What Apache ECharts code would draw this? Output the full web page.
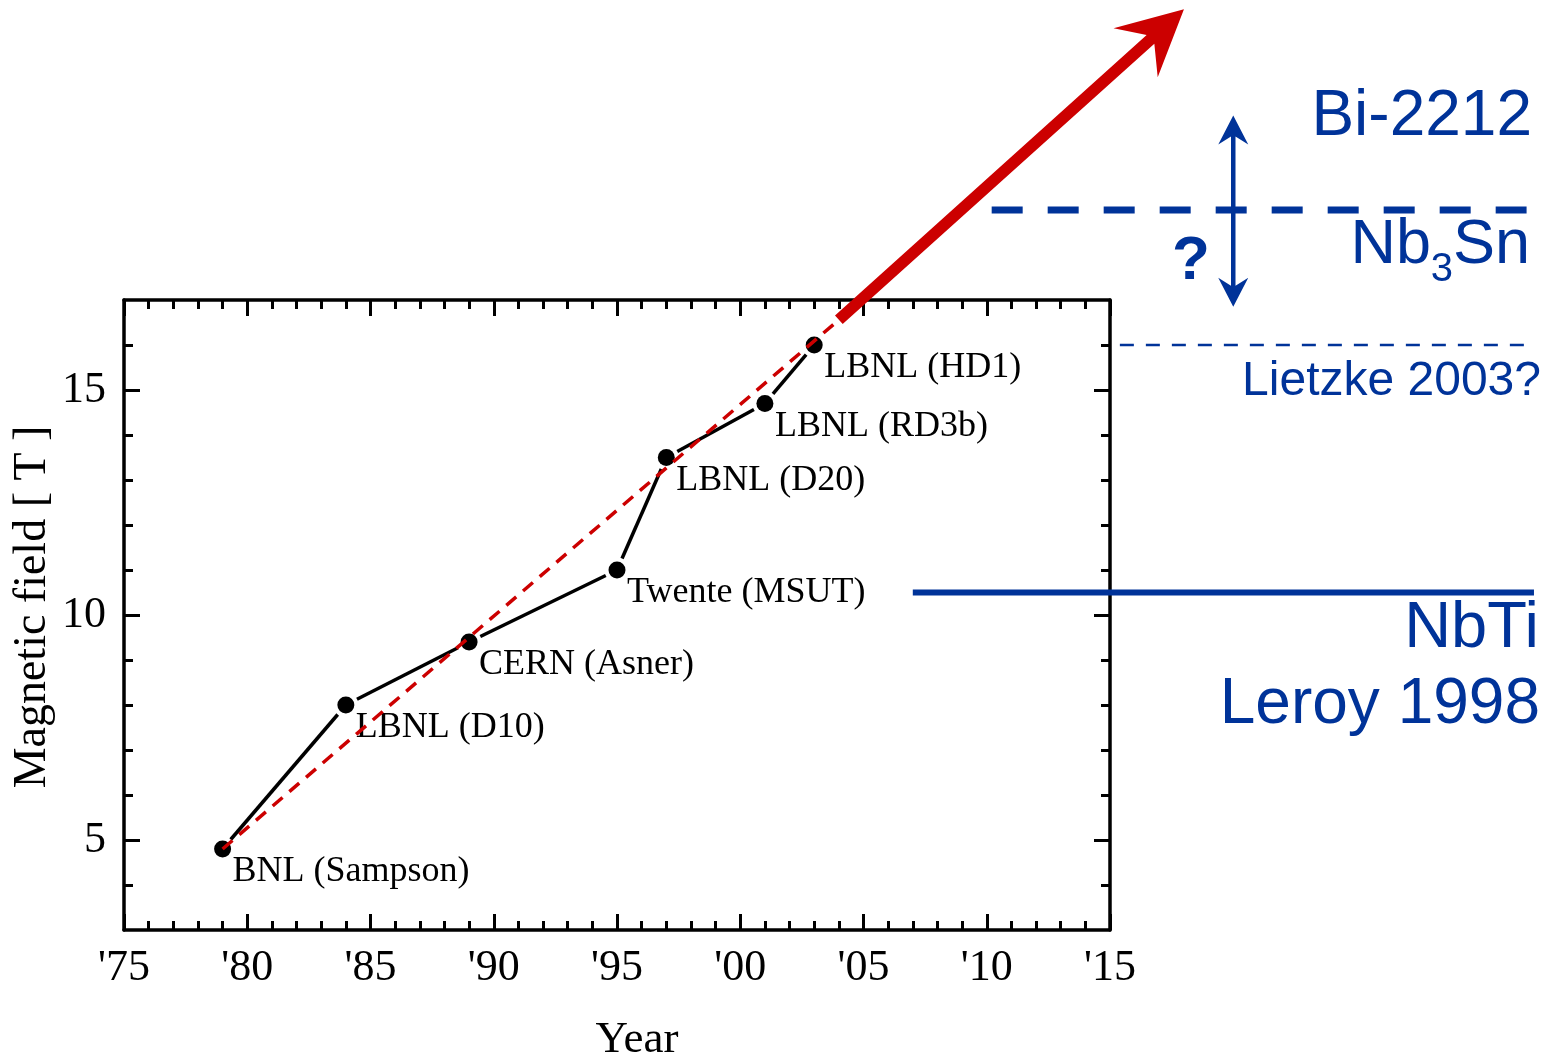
<!DOCTYPE html>
<html>
<head>
<meta charset="utf-8">
<title>Dipole magnet field records</title>
<script src="https://cdn.jsdelivr.net/npm/echarts@6/dist/echarts.min.js"></script>
<style>
  html, body { margin: 0; padding: 0; background: #ffffff; }
  #chart { width: 1551px; height: 1057px; }
</style>
</head>
<body>
<div id="chart"></div>
<script>
// Record fields of accelerator dipole model magnets
const years = [1979, 1984, 1989, 1995, 1997, 2001, 2003];
const fields = [4.8, 8.0, 9.4, 11.0, 13.5, 14.7, 16.0];
const magnets = ['BNL (Sampson)', 'LBNL (D10)', 'CERN (Asner)', 'Twente (MSUT)', 'LBNL (D20)', 'LBNL (RD3b)', 'LBNL (HD1)'];

// Axis ticks
const xTickLabels = ["'75", "'80", "'85", "'90", "'95", "'00", "'05", "'10", "'15"];
const yMajorTicks = [5, 10, 15];
const yMinorTicks = [4, 6, 7, 8, 9, 11, 12, 13, 14, 16];

// Trend line and its extrapolation arrow (year, tesla)
const trendLine = [[1979, 4.8], [2004, 16.56]];
const trendArrow = [[2004, 16.56, 2018, 23.46]];

// Conductor limits drawn to the right of the frame (year from, tesla, year to, tesla)
const nbtiLimit = [[2007, 10.5, 2032.2, 10.5]];
const nb3snLimit = [[2010.2, 19, 2031.9, 19]];
const lietzkeLimit = [[2015.4, 16, 2031.9, 16]];
const rangeArrow = [[2020, 16.85, 2020, 21.1]];

// Consecutive record pairs for the connecting segments
const recordSegments = years.slice(1).map((y, i) => [years[i], fields[i], y, fields[i + 1]]);

const RED = '#cc0000';
const BLUE = '#003399';
const SERIF = '"Liberation Serif", "Times New Roman", serif';
const SANS = '"Liberation Sans", Arial, sans-serif';

// Polygon outline of an arrow from p0 to p1 (pixel space)
function arrowShape(p0, p1, w, L, H, N, both) {
  const dx = p1[0] - p0[0], dy = p1[1] - p0[1];
  const len = Math.hypot(dx, dy);
  const ux = dx / len, uy = dy / len, nx = -uy, ny = ux;
  const at = (p, a, b) => [p[0] + ux * a + nx * b, p[1] + uy * a + ny * b];
  const pts = [];
  if (both) pts.push(p0, at(p0, L, H), at(p0, N, w / 2));
  else pts.push(at(p0, 0, w / 2));
  pts.push(at(p1, -N, w / 2), at(p1, -L, H), p1, at(p1, -L, -H), at(p1, -N, -w / 2));
  if (both) pts.push(at(p0, N, -w / 2), at(p0, L, -H));
  else pts.push(at(p0, 0, -w / 2));
  return pts;
}

function arrowRenderer(color, w, L, H, N, both) {
  return function (params, api) {
    const p0 = api.coord([api.value(0), api.value(1)]);
    const p1 = api.coord([api.value(2), api.value(3)]);
    return {
      type: 'polygon',
      shape: { points: arrowShape(p0, p1, w, L, H, N, both) },
      style: { fill: color }
    };
  };
}

// Straight segment between two data points, optionally pulled back from both ends
function segmentRenderer(style, trim) {
  return function (params, api) {
    const p0 = api.coord([api.value(0), api.value(1)]);
    const p1 = api.coord([api.value(2), api.value(3)]);
    const dx = p1[0] - p0[0], dy = p1[1] - p0[1];
    const len = Math.hypot(dx, dy);
    const t = (trim || 0) / len;
    return {
      type: 'line',
      shape: {
        x1: p0[0] + dx * t, y1: p0[1] + dy * t,
        x2: p1[0] - dx * t, y2: p1[1] - dy * t
      },
      style: Object.assign({ fill: null }, style)
    };
  };
}

const axisLineStyle = { color: '#000', width: 3.5 };
const tickStyle = { color: '#000', width: 3 };

function xAxisDef(position, withLabels) {
  return {
    type: 'value', position: position, min: 1975, max: 2015, interval: 5,
    axisLine: { show: true, onZero: false, lineStyle: axisLineStyle },
    axisTick: { show: true, inside: true, length: 16, lineStyle: tickStyle },
    minorTick: { show: true, splitNumber: 5, length: 9, lineStyle: tickStyle },
    splitLine: { show: false },
    minorSplitLine: { show: false },
    axisLabel: withLabels ? {
      show: true, margin: 16, showMinLabel: true, showMaxLabel: true,
      fontFamily: SERIF, fontSize: 44, color: '#000',
      formatter: v => xTickLabels[Math.round((v - 1975) / 5)]
    } : { show: false },
    name: withLabels ? 'Year' : '',
    nameLocation: 'middle', nameGap: 88, nameMoveOverlap: false,
    nameTextStyle: { fontFamily: SERIF, fontSize: 45, color: '#000', padding: [0, 0, 0, 40] }
  };
}

function yAxisDef(position, major, withLabels) {
  return {
    type: 'value', position: position, min: 3, max: 17,
    axisLine: { show: major, onZero: false, lineStyle: axisLineStyle },
    axisTick: {
      show: true, inside: true, length: major ? 16 : 9,
      customValues: major ? yMajorTicks : yMinorTicks, lineStyle: tickStyle
    },
    splitLine: { show: false },
    axisLabel: withLabels ? {
      show: true, margin: 18, customValues: yMajorTicks,
      fontFamily: SERIF, fontSize: 44, color: '#000'
    } : { show: false },
    name: withLabels ? 'Magnetic field [ T ]' : '',
    nameLocation: 'middle', nameGap: 68, nameMoveOverlap: false,
    nameTextStyle: { fontFamily: SERIF, fontSize: 46, color: '#000', padding: [0, 0, 0, 16] }
  };
}

function textEl(text, x, y, size, align, weight) {
  return {
    type: 'text', x: x, y: y, silent: true,
    style: {
      text: text, fill: BLUE, align: align, verticalAlign: 'middle',
      font: (weight || 'normal') + ' ' + size + 'px ' + SANS
    }
  };
}

const chart = echarts.init(document.getElementById('chart'), null, { renderer: 'canvas' });

chart.setOption({
  animation: false,
  backgroundColor: '#ffffff',
  grid: { left: 124, top: 300, right: 441, bottom: 127, containLabel: false, outerBoundsMode: 'none' },
  xAxis: [xAxisDef('bottom', true), xAxisDef('top', false)],
  yAxis: [
    yAxisDef('left', true, true),
    yAxisDef('left', false, false),
    yAxisDef('right', true, false),
    yAxisDef('right', false, false)
  ],
  series: [
    {
      name: 'Record field', type: 'custom', z: 2, clip: false,
      data: recordSegments,
      renderItem: segmentRenderer({ stroke: '#000', lineWidth: 3.5 }, 12.5)
    },
    {
      name: 'Magnets', type: 'scatter', z: 3,
      data: years.map((y, i) => ({ value: [y, fields[i]], name: magnets[i] })),
      symbol: 'circle', symbolSize: 17,
      itemStyle: { color: '#000', opacity: 1 },
      label: {
        show: true, formatter: '{b}', position: 'inside', align: 'left', verticalAlign: 'top',
        offset: [10, 5], fontFamily: SERIF, fontSize: 36, color: '#000'
      },
      emphasis: { disabled: true }
    },
    {
      name: 'Trend', type: 'line', z: 4,
      data: trendLine, symbol: 'none',
      lineStyle: { color: RED, width: 3.5, type: [13, 9] }
    },
    {
      name: 'Trend extrapolation', type: 'custom', z: 5, clip: false,
      data: trendArrow,
      renderItem: arrowRenderer(RED, 11.5, 65, 33, 45, false)
    },
    {
      name: 'NbTi', type: 'custom', z: 2, clip: false,
      data: nbtiLimit,
      renderItem: segmentRenderer({ stroke: BLUE, lineWidth: 6 })
    },
    {
      name: 'Nb3Sn', type: 'custom', z: 2, clip: false,
      data: nb3snLimit,
      renderItem: segmentRenderer({ stroke: BLUE, lineWidth: 7, lineDash: [31, 25], lineCap: 'butt' })
    },
    {
      name: 'Lietzke', type: 'custom', z: 2, clip: false,
      data: lietzkeLimit,
      renderItem: segmentRenderer({ stroke: BLUE, lineWidth: 2.5, lineDash: [14, 12], lineCap: 'butt' })
    },
    {
      name: 'Range', type: 'custom', z: 5, clip: false,
      data: rangeArrow,
      renderItem: arrowRenderer(BLUE, 4.5, 29, 15, 21, true)
    }
  ],
  graphic: [
    textEl('Bi-2212', 1532, 117, 64, 'right'),
    textEl('Sn', 1530, 245.5, 63, 'right'),
    textEl('3', 1453, 269.5, 40, 'right'),
    textEl('Nb', 1431, 245.5, 63, 'right'),
    textEl('?', 1191, 262, 62, 'center', 'bold'),
    textEl('Lietzke 2003?', 1541, 382, 48, 'right'),
    textEl('NbTi', 1539, 629.5, 65, 'right'),
    textEl('Leroy 1998', 1540, 705.5, 64, 'right')
  ]
});
</script>
</body>
</html>
